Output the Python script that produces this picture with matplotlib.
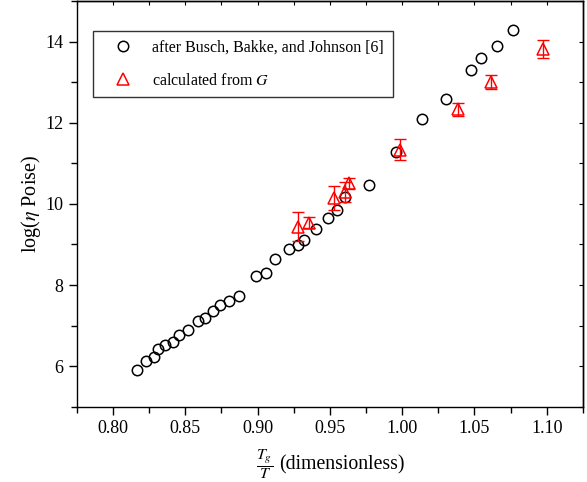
import matplotlib
matplotlib.use('Agg')
import matplotlib.pyplot as plt
from matplotlib.ticker import MultipleLocator, FormatStrFormatter

plt.rcParams['font.family'] = ['Liberation Serif', 'DejaVu Serif']
plt.rcParams['mathtext.fontset'] = 'stix'

# after Busch, Bakke, and Johnson [6]
busch_x = [0.8165, 0.8227, 0.8282, 0.8312, 0.8360, 0.8416, 0.8457, 0.8517,
           0.8588, 0.8639, 0.8692, 0.8740, 0.8800, 0.8872, 0.8989, 0.9060,
           0.9123, 0.9219, 0.9279, 0.9320, 0.9401, 0.9488, 0.9546, 0.9603,
           0.9771, 0.9956, 1.0135, 1.0301, 1.0474, 1.0545, 1.0653, 1.0764]
busch_y = [5.90, 6.14, 6.23, 6.43, 6.52, 6.59, 6.78, 6.90,
           7.11, 7.18, 7.36, 7.52, 7.61, 7.74, 8.22, 8.29,
           8.65, 8.89, 8.99, 9.11, 9.39, 9.66, 9.84, 10.16,
           10.47, 11.27, 12.09, 12.59, 13.30, 13.59, 13.89, 14.29]

# calculated from G
calc_x = [0.9277, 0.9357, 0.9530, 0.9603, 0.9633, 0.9988, 1.0389, 1.0617, 1.0973]
calc_y = [9.44, 9.54, 10.14, 10.29, 10.51, 11.34, 12.33, 13.00, 13.82]
calc_err = [0.36, 0.13, 0.30, 0.25, 0.14, 0.25, 0.16, 0.18, 0.23]

fig = plt.figure(figsize=(5.87, 4.82), dpi=100)
ax = fig.add_axes([0.131, 0.156, 0.862, 0.842])

ax.plot(busch_x, busch_y, 'o', ms=7.5, mfc='none', mec='black', mew=1.1,
        label='after Busch, Bakke, and Johnson [6]')
ax.errorbar(calc_x, calc_y, yerr=calc_err, fmt='none', ecolor='red',
            elinewidth=1.0, capsize=4.5, capthick=1.0)
ax.plot(calc_x, calc_y, '^', ms=8.5, mfc='none', mec='red', mew=1.1,
        label='calculated from $G$')

ax.set_xlim(0.775, 1.125)
ax.set_ylim(5, 15)
ax.xaxis.set_major_locator(MultipleLocator(0.05))
ax.xaxis.set_minor_locator(MultipleLocator(0.025))
ax.yaxis.set_major_locator(MultipleLocator(2))
ax.yaxis.set_minor_locator(MultipleLocator(1))
ax.xaxis.set_major_formatter(FormatStrFormatter('%.2f'))
ax.tick_params(which='both', direction='out', labelsize=13, width=1)
ax.tick_params(which='major', length=6)
ax.tick_params(which='minor', length=4)

secx = ax.secondary_xaxis('top')
secx.xaxis.set_major_locator(MultipleLocator(0.025))
secx.tick_params(direction='in', length=3, labeltop=False)
secy = ax.secondary_yaxis('right')
secy.yaxis.set_major_locator(MultipleLocator(1))
secy.tick_params(direction='in', length=3, labelright=False)

for a in (ax, secx, secy):
    for s in a.spines.values():
        s.set_linewidth(1.0)

ax.set_ylabel(r'log($\eta\ $Poise)', fontsize=14.5, labelpad=2)

# x label: small display fraction followed by the plain text
ax.set_xlabel('(dimensionless)', fontsize=14.2)
ax.xaxis.set_label_coords(0.523, -0.143)
ax.xaxis.label.set_va('center')
ax.text(0.370, -0.143, r'$\dfrac{T_g}{T}$', transform=ax.transAxes,
        fontsize=11.5, ha='center', va='center')

leg = ax.legend(loc='upper left', bbox_to_anchor=(0.032, 0.926), borderaxespad=0,
                fontsize=11.5, frameon=True, fancybox=False, edgecolor='black',
                handlelength=2.63, handletextpad=0.5, borderpad=0.56,
                labelspacing=1.04)
leg.get_frame().set_linewidth(1.0)

fig.savefig('out.png', dpi=100)
